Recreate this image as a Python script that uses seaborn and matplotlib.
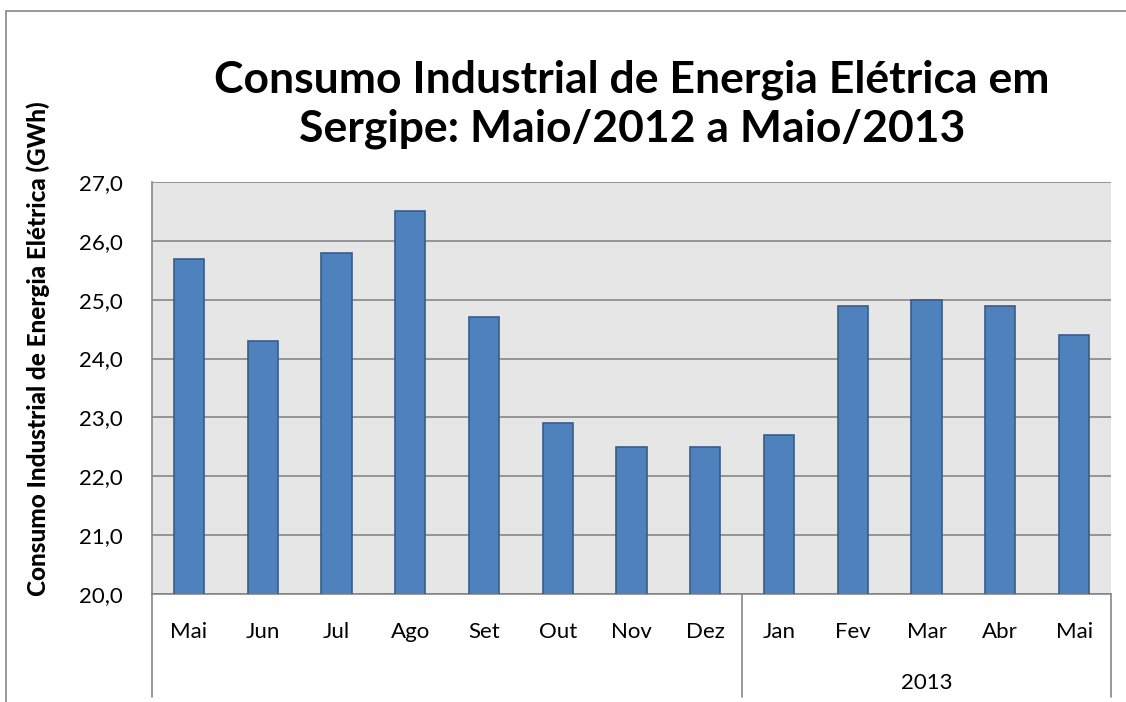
import pandas as pd
import seaborn as sns
import matplotlib.pyplot as plt
from matplotlib.patches import Rectangle

meses = ["Mai", "Jun", "Jul", "Ago", "Set", "Out", "Nov", "Dez",
         "Jan", "Fev", "Mar", "Abr", "Mai"]
anos = ["2012"] * 8 + ["2013"] * 5
consumo = [25.7, 24.3, 25.8, 26.5, 24.7, 22.9, 22.5, 22.5,
           22.7, 24.9, 25.0, 24.9, 24.4]
yticks = [20, 21, 22, 23, 24, 25, 26, 27]

df = pd.DataFrame({"periodo": [m + "/" + a for m, a in zip(meses, anos)],
                   "consumo": consumo})

sns.set_theme(style="white")
plt.rcParams['font.family'] = ['Lato', 'DejaVu Sans']
plt.rcParams['text.color'] = 'black'
plt.rcParams['axes.labelcolor'] = 'black'
plt.rcParams['xtick.color'] = 'black'
plt.rcParams['ytick.color'] = 'black'

fig = plt.figure(figsize=(11.26, 7.02), dpi=100)
ax = fig.add_axes([152/1126, 1 - 594/702, (1111 - 152)/1126, (594 - 182)/702])
ax.set_facecolor("#E6E6E6")

sns.barplot(data=df, x="periodo", y="consumo", order=df["periodo"],
            color="#4F81BD", saturation=1, width=0.41,
            edgecolor="#385D8A", linewidth=1.2, ax=ax, zorder=3)

ax.set_ylim(20, 27)
ax.set_yticks(yticks)
ax.set_yticklabels([f"{v:.1f}".replace(".", ",") for v in yticks], fontsize=16)
ax.yaxis.grid(True, color="#868686", linewidth=1.2, zorder=0)
ax.set_axisbelow(True)
ax.tick_params(axis="y", length=9, color="#868686", width=1.2, pad=12)
ax.tick_params(axis="x", length=0, pad=20)
ax.set_xticks(range(len(meses)))
ax.set_xticklabels(meses, fontsize=16)
ax.set_xlim(-0.5, len(meses) - 0.5)
ax.set_xlabel("")
ax.set_ylabel("")

# titulo do eixo y (um pouco acima do centro, como no original)
fig.text(38/1126, 1 - 349/702, "Consumo Industrial de Energia Elétrica (GWh)",
         rotation=90, ha="center", va="center", fontsize=17.5, fontweight=900)

for s in ["top", "right"]:
    ax.spines[s].set_visible(False)
for s in ["left", "bottom"]:
    ax.spines[s].set_color("#868686")
    ax.spines[s].set_linewidth(1.2)

# separadores do eixo de categorias em dois niveis
tr = ax.get_xaxis_transform()
for xs in [-0.5, 7.5, 12.5]:
    ax.plot([xs, xs], [0, -0.25], color="#868686", linewidth=1.2,
            transform=tr, clip_on=False)
ax.text(10, -0.217, "2013", transform=tr, ha="center", va="center", fontsize=16)

fig.text(632/1126, 1 - 104/702, "Consumo Industrial de Energia Elétrica em\nSergipe: Maio/2012 a Maio/2013",
         ha="center", va="center", fontsize=32, fontweight="bold", linespacing=1.25)

fig.patches.append(Rectangle((6/1126, -0.1), 1.2, 1 - 11/702 + 0.1,
                             transform=fig.transFigure, fill=False,
                             edgecolor="#868686", linewidth=1.2))

fig.savefig("out.png", dpi=100)
